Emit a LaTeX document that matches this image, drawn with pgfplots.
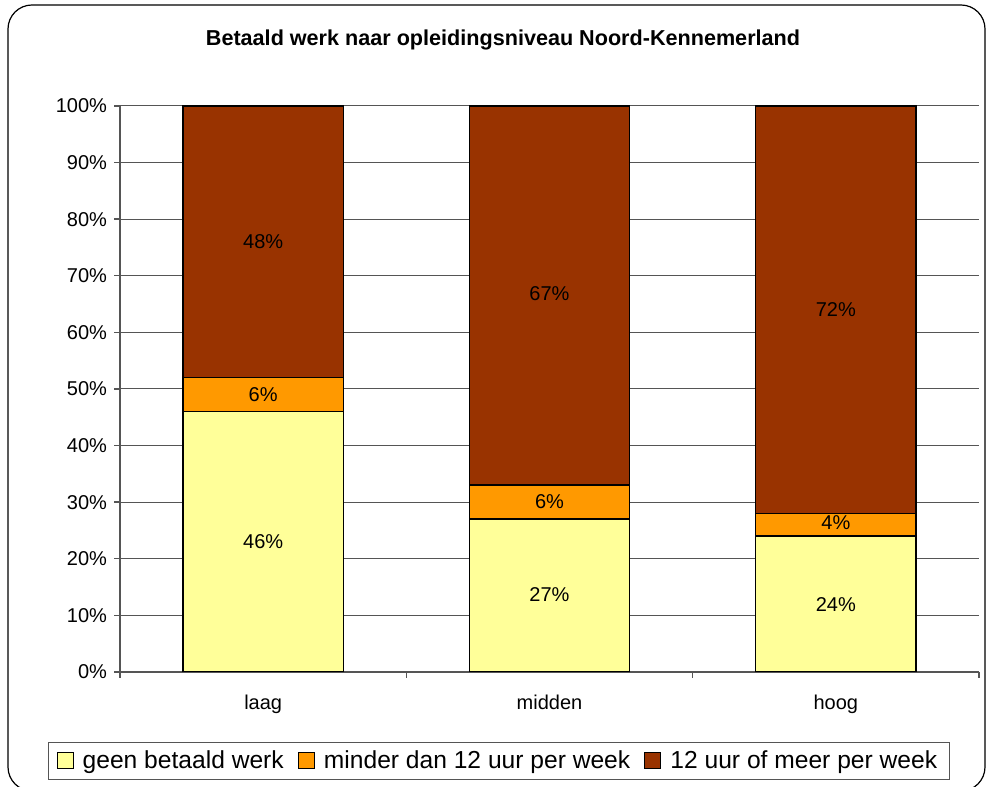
\documentclass[border=0pt]{standalone}
\usepackage{fontspec}
\setmainfont{Liberation Sans}
\usepackage{pgfplots}
\pgfplotsset{compat=1.18}
\definecolor{geel}{HTML}{FFFF99}
\definecolor{oranje}{HTML}{FF9900}
\definecolor{bruin}{HTML}{993300}
\definecolor{lijn}{HTML}{555555}

\begin{document}
\begin{tikzpicture}
\useasboundingbox (0,0) rectangle (493pt,393.5pt);
\draw[black, line width=0.6pt, rounded corners=12pt] (4pt,391pt) rectangle (492.5pt,-2pt);
\node[font=\fontsize{10.8}{12}\selectfont\bfseries] at (251.5pt,373.5pt)
  {Betaald werk naar opleidingsniveau Noord-Kennemerland};

\begin{axis}[
    at={(60pt,57.5pt)}, anchor=south west,
    scale only axis, width=429.5pt, height=283pt,
    ybar stacked, bar width=0.56,
    xmin=-0.5, xmax=2.5, ymin=0, ymax=100,
    axis x line=bottom, axis y line=left,
    axis line style={lijn, line width=0.7pt, -},
    xtick={0,1,2}, xticklabels={laag,midden,hoog},
    x tick style={draw=none},
    extra x ticks={-0.5,0.5,1.5,2.5}, extra x tick labels={},
    extra x tick style={x tick style={draw=lijn, line width=0.7pt}, xmajorgrids=false},
    ytick={0,10,...,100},
    yticklabel={\pgfmathprintnumber{\tick}\%},
    y tick style={lijn, line width=0.7pt},
    tick align=outside, major tick length=3pt,
    ymajorgrids, grid style={lijn, line width=0.5pt},
    /pgf/number format/assume math mode=true,
    tick label style={font=\fontsize{10}{12}\selectfont},
    xticklabel style={yshift=-5pt},
    legend columns=3,
    legend style={at={(0.441,-0.157)}, anchor=center, draw=lijn, line width=0.6pt,
      font=\fontsize{12.3}{14}\selectfont, inner xsep=4pt, inner ysep=2pt,
      /tikz/every odd column/.append style={column sep=2.5pt},
      /tikz/every even column/.append style={column sep=5pt}},
    legend image code/.code={\draw[#1, draw=black, line width=0.6pt] (0pt,-3.8pt) rectangle (8pt,4.2pt);},
]
\addplot[fill=geel, draw=black, line width=0.75pt] coordinates {(0,46) (1,27) (2,24)};
\addplot[fill=oranje, draw=black, line width=0.75pt] coordinates {(0,6) (1,6) (2,4)};
\addplot[fill=bruin, draw=black, line width=0.75pt] coordinates {(0,48) (1,67) (2,72)};
\legend{geen betaald werk, minder dan 12 uur per week, 12 uur of meer per week}
\end{axis}

\begin{axis}[
    at={(60pt,57.5pt)}, anchor=south west,
    scale only axis, width=429.5pt, height=283pt,
    xmin=-0.5, xmax=2.5, ymin=0, ymax=100,
    hide axis,
]
\addplot[draw=none, mark=none, nodes near coords, point meta=explicit symbolic,
  every node near coord/.append style={anchor=center, font=\fontsize{10}{12}\selectfont}]
  coordinates {
  (0,23) [46\%] (0,49) [6\%] (0,76) [48\%]
  (1,13.7) [27\%] (1,30.1) [6\%] (1,66.8) [67\%]
  (2,12) [24\%] (2,26.4) [4\%] (2,64.1) [72\%]
};
\end{axis}
\end{tikzpicture}
\end{document}
